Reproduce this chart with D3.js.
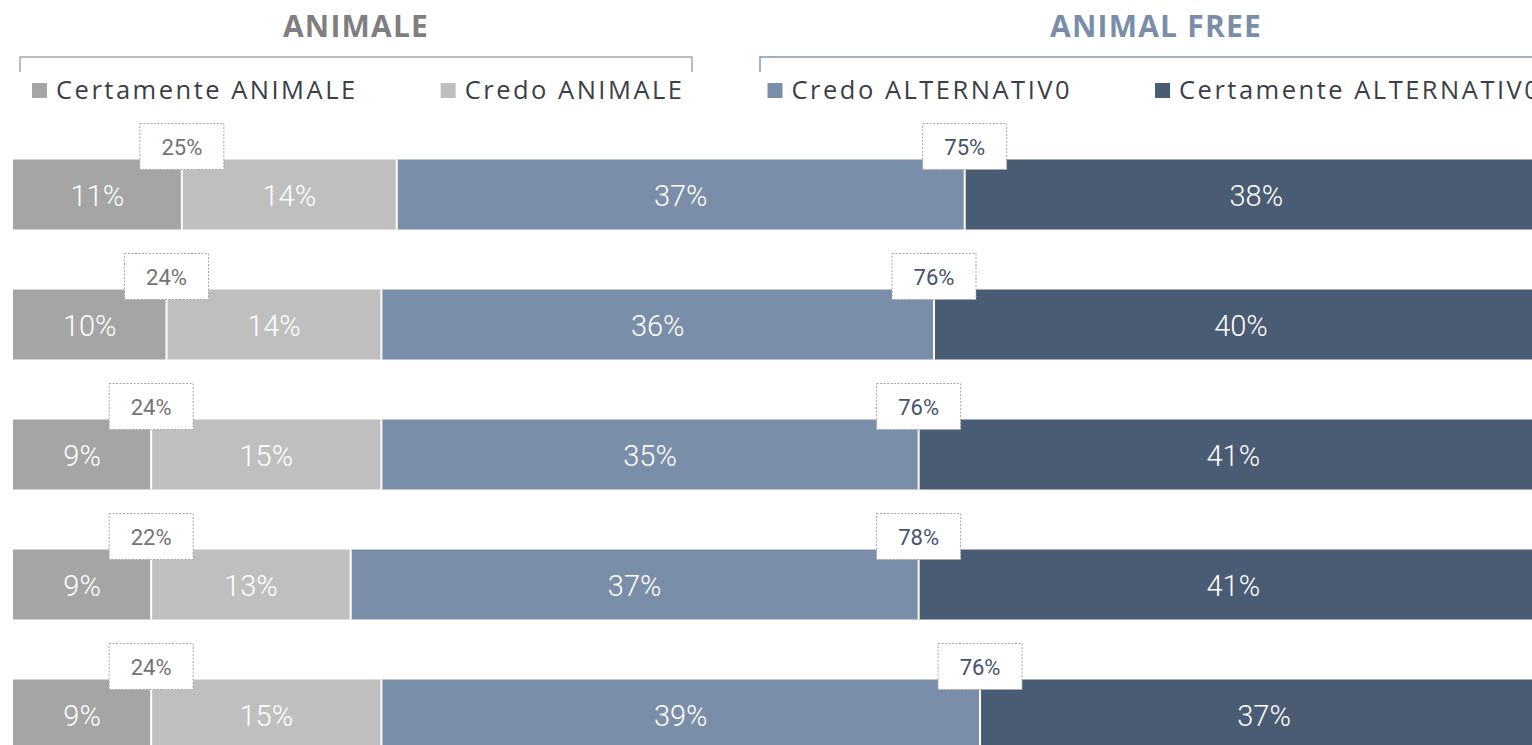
<!DOCTYPE html>
<html>
<head>
<meta charset="utf-8">
<script src="https://cdn.jsdelivr.net/npm/d3@7/dist/d3.min.js"></script>
<style>
  html, body { margin: 0; padding: 0; background: #fff; overflow: hidden; }
  svg { display: block; }
</style>
</head>
<body>
<svg id="chart" width="1532" height="745"></svg>
<script>
// Survey rows (no row labels are displayed)
const rows = ["r1", "r2", "r3", "r4", "r5"];

// Series, in stacking order (percentages)
const seriesNames = ["Certamente ANIMALE", "Credo ANIMALE", "Credo ALTERNATIV0", "Certamente ALTERNATIV0"];
const certAnimale = [11, 10, 9, 9, 9];
const credoAnimale = [14, 14, 15, 13, 15];
const credoAlt = [37, 36, 35, 37, 39];
const certAlt = [38, 40, 41, 41, 37];

// Group totals shown in the callout boxes
const totalAnimale = [25, 24, 24, 22, 24];
const totalAlt = [75, 76, 76, 78, 76];

// Group headers
const groups = ["ANIMALE", "ANIMAL FREE"];

const colors = ["#a5a5a5", "#bfbfbf", "#7a8eaa", "#4a5b74"];
const seriesValues = [certAnimale, credoAnimale, credoAlt, certAlt];

const svg = d3.select("#chart");
const labelFont = "Roboto, 'Open Sans', sans-serif";
const legendFont = "'Open Sans', 'Noto Sans', sans-serif";

// Scales
const x = d3.scaleLinear().domain([0, 100]).range([13, 1548]);
const y = d3.scaleBand().domain(rows)
  .range([129.5, 779.5])
  .paddingInner(60 / 130)
  .paddingOuter(30 / 130);

// Stacked data
const table = rows.map((r, i) => {
  const o = { row: r };
  seriesNames.forEach((s, k) => { o[s] = seriesValues[k][i]; });
  return o;
});
const stacked = d3.stack().keys(seriesNames)(table);

// ---- Group headers with brackets ----
const groupSpans = [
  { name: groups[0], x0: 20, x1: 692, color: "#a6a6a6", text: "#7f7f7f" },
  { name: groups[1], x0: 760, x1: 1552, color: "#8497b0", text: "#7a8eaa" }
];
groupSpans.forEach(g => {
  svg.append("text")
    .attr("x", (g.x0 + g.x1) / 2)
    .attr("y", 37)
    .attr("text-anchor", "middle")
    .style("font-family", legendFont)
    .style("font-weight", 700)
    .style("font-size", "30px")
    .style("letter-spacing", "1.2px")
    .attr("fill", g.text)
    .text(g.name);
  svg.append("path")
    .attr("d", `M${g.x0},72 V57 H${g.x1} V72`)
    .attr("fill", "none")
    .attr("stroke", g.color)
    .attr("stroke-width", 1.5);
});

// ---- Legend ----
const legend = svg.append("g");
let lx = 32;
seriesNames.forEach((name, k) => {
  const item = legend.append("g").attr("transform", `translate(${lx},0)`);
  item.append("rect")
    .attr("x", 0).attr("y", 83)
    .attr("width", 15).attr("height", 15)
    .attr("fill", colors[k]);
  const t = item.append("text")
    .attr("x", 24)
    .attr("y", 99)
    .style("font-family", legendFont)
    .style("font-size", "25.5px")
    .style("letter-spacing", "2.5px")
    .attr("fill", "#3a3f47")
    .text(name);
  lx += 24 + t.node().getComputedTextLength() + 83;
});

// ---- Bars ----
const layers = svg.append("g").selectAll("g")
  .data(stacked)
  .join("g")
  .attr("fill", (d, k) => colors[k]);

layers.selectAll("rect")
  .data(d => d)
  .join("rect")
  .attr("x", d => x(d[0]))
  .attr("y", d => y(d.data.row))
  .attr("width", d => x(d[1]) - x(d[0]))
  .attr("height", y.bandwidth());

// White separators between segments
stacked.slice(0, -1).forEach(layer => {
  svg.append("g").selectAll("line")
    .data(layer)
    .join("line")
    .attr("x1", d => x(d[1])).attr("x2", d => x(d[1]))
    .attr("y1", d => y(d.data.row))
    .attr("y2", d => y(d.data.row) + y.bandwidth())
    .attr("stroke", "#fff")
    .attr("stroke-width", 2);
});

// Segment value labels
stacked.forEach(layer => {
  svg.append("g").selectAll("text")
    .data(layer)
    .join("text")
    .attr("x", d => x((d[0] + d[1]) / 2))
    .attr("y", d => y(d.data.row) + y.bandwidth() / 2 + 11)
    .attr("text-anchor", "middle")
    .style("font-family", labelFont)
    .style("font-weight", 300)
    .style("font-size", "29px")
    .attr("fill", "#fff")
    .text(d => (d[1] - d[0]) + "%");
});

// ---- Total callouts ----
const callouts = [
  { totals: totalAnimale, layer: stacked[0], text: "#737373" },
  { totals: totalAlt, layer: stacked[2], text: "#44546a" }
];
callouts.forEach(c => {
  const g = svg.append("g").selectAll("g")
    .data(c.layer)
    .join("g")
    .attr("transform", d => `translate(${x(d[1])},${y(d.data.row)})`);
  g.append("rect")
    .attr("x", -42).attr("y", -36)
    .attr("width", 84).attr("height", 46)
    .attr("fill", "#fff")
    .attr("stroke", "#a6a6a6")
    .attr("stroke-width", 1)
    .attr("stroke-dasharray", "2,1.5");
  g.append("text")
    .attr("x", 0)
    .attr("y", -5)
    .attr("text-anchor", "middle")
    .style("font-family", labelFont)
    .style("font-size", "22px")
    .attr("fill", c.text)
    .text((d, i) => c.totals[i] + "%");
});
</script>
</body>
</html>
